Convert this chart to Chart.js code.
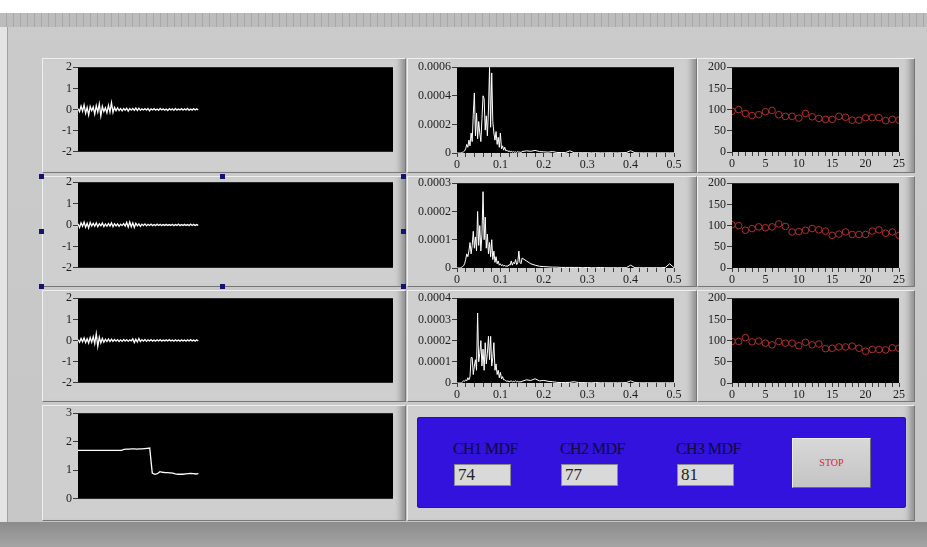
<!DOCTYPE html>
<html>
<head>
<meta charset="utf-8">
<script src="https://cdn.jsdelivr.net/npm/chart.js@4.4.1/dist/chart.umd.min.js"></script>
<style>
  body { margin: 0; width: 927px; height: 547px; overflow: hidden; position: relative;
         background: linear-gradient(#cbcbcb, #c6c6c6); font-family: "Liberation Serif", serif; }
  .abs { position: absolute; }
  #topWhite { left: 0; top: 0; width: 927px; height: 13px; background: #fff; }
  #ruler { left: 0; top: 13px; width: 927px; height: 14px;
           background: repeating-linear-gradient(90deg, #bcbcbc 0 6px, #a8a8a8 6px 7px); }
  #leftEdge { left: 0; top: 27px; width: 7px; height: 495px; background: #e4e4e4; border-right: 1px solid #a2a2a2; }
  #bottomBar { left: 0; top: 522px; width: 927px; height: 25px; background: linear-gradient(#8c8c8c, #a4a4a4); }
  .panel { position: absolute; box-sizing: border-box; background: #cfcfcf;
           border-top: 1px solid #efefef; border-left: 1px solid #efefef;
           border-right: 1px solid #777; border-bottom: 1px solid #777;
           box-shadow: inset -9px 0 6px -5px #8e8e8e; }
  #bluePanel { left: 417px; top: 417px; width: 489px; height: 91px; background: #3312de;
               border-radius: 3px; box-shadow: inset 0 0 0 1px #2a10b0; }
  .mdfLabel { position: absolute; font-size: 16px; letter-spacing: -0.6px; color: #0c0c3a; }
  .mdfBox { position: absolute; box-sizing: border-box; width: 57px; height: 22px; background: #d9d9d9;
            border: 1px solid #8a8a8a; font-size: 17px; color: #222; padding-left: 3px; line-height: 20px; }
  #stopBtn { left: 792px; top: 438px; width: 79px; height: 50px; box-sizing: border-box;
             background: linear-gradient(#d8d8d8, #c4c4c4); border: 1px solid #eee;
             border-right-color: #6c6c6c; border-bottom-color: #6c6c6c;
             color: #d42a2a; font-size: 10px; text-align: center; line-height: 48px; }
  .handle { position: absolute; width: 5px; height: 5px; background: #14146e; }
  canvas { position: absolute; }
</style>
</head>
<body>
<div id="topWhite" class="abs"></div>
<div id="ruler" class="abs"></div>
<div id="leftEdge" class="abs"></div>
<div id="bottomBar" class="abs"></div>

<div class="panel" style="left:42px;top:58px;width:364px;height:115px"></div>
<div class="panel" style="left:42px;top:176px;width:364px;height:111px"></div>
<div class="panel" style="left:42px;top:290px;width:364px;height:112px"></div>
<div class="panel" style="left:42px;top:405px;width:364px;height:116px"></div>
<div class="panel" style="left:407px;top:58px;width:290px;height:115px"></div>
<div class="panel" style="left:407px;top:176px;width:290px;height:111px"></div>
<div class="panel" style="left:407px;top:290px;width:290px;height:112px"></div>
<div class="panel" style="left:697px;top:58px;width:218px;height:115px"></div>
<div class="panel" style="left:697px;top:176px;width:218px;height:111px"></div>
<div class="panel" style="left:697px;top:290px;width:218px;height:112px"></div>
<div class="panel" style="left:407px;top:405px;width:508px;height:116px"></div>

<div id="bluePanel" class="abs"></div>
<div class="mdfLabel" style="left:453px;top:440px">CH1 MDF</div>
<div class="mdfLabel" style="left:560px;top:440px">CH2 MDF</div>
<div class="mdfLabel" style="left:676px;top:440px">CH3 MDF</div>
<div class="mdfBox" style="left:454px;top:464px">74</div>
<div class="mdfBox" style="left:561px;top:464px">77</div>
<div class="mdfBox" style="left:677px;top:464px">81</div>
<div id="stopBtn" class="abs">STOP</div>

<div class="handle" style="left:39px;top:174px"></div>
<div class="handle" style="left:220px;top:174px"></div>
<div class="handle" style="left:401px;top:174px"></div>
<div class="handle" style="left:39px;top:229px"></div>
<div class="handle" style="left:401px;top:229px"></div>
<div class="handle" style="left:39px;top:284px"></div>
<div class="handle" style="left:220px;top:284px"></div>
<div class="handle" style="left:401px;top:284px"></div>

<script>
// raw EMG, one value per sample
const emgCh1 = [
  0.04,-0.10,0.16,-0.08,0.22,-0.18,0.10,-0.26,0.14,-0.06,
  0.12,-0.22,0.18,-0.12,0.26,-0.30,0.15,-0.10,0.08,-0.16,
  0.20,-0.12,0.32,-0.14,0.10,-0.06,0.08,-0.05,0.04,-0.06,
  0.05,-0.03,0.06,-0.08,0.04,-0.03,0.05,-0.04,0.07,-0.05,
  0.06,-0.04,0.03,-0.02,0.04,-0.03,0.05,-0.06,0.03,-0.02,
  0.04,-0.03,0.02,-0.04,0.05,-0.02,0.03,-0.03,0.02,-0.05,
  0.04,-0.02,0.03,-0.04,0.05,-0.03,0.02,-0.02,0.04,-0.03,
  0.03,-0.02,0.05,-0.04,0.02,-0.03,0.04,-0.02,0.03,-0.02
];
const emgCh2 = [
  0.06,-0.12,0.10,-0.06,0.14,-0.10,0.08,-0.14,0.12,-0.05,
  0.08,-0.06,0.10,-0.08,0.06,-0.04,0.09,-0.07,0.05,-0.06,
  0.07,-0.05,0.10,-0.08,0.06,-0.04,0.05,-0.06,0.04,-0.03,
  0.06,-0.05,0.12,-0.10,0.14,-0.08,0.10,-0.12,0.08,-0.04,
  0.05,-0.06,0.04,-0.03,0.05,-0.04,0.03,-0.02,0.04,-0.03,
  0.02,-0.03,0.04,-0.02,0.03,-0.03,0.02,-0.02,0.03,-0.02,
  0.02,-0.02,0.03,-0.03,0.02,-0.02,0.04,-0.03,0.02,-0.02,
  0.03,-0.02,0.02,-0.03,0.04,-0.02,0.03,-0.02,0.02,-0.02
];
const emgCh3 = [
  0.05,-0.08,0.10,-0.06,0.12,-0.10,0.08,-0.12,0.14,-0.08,
  0.18,-0.15,0.32,-0.28,0.16,-0.12,0.10,-0.08,0.06,-0.05,
  0.07,-0.05,0.06,-0.04,0.05,-0.03,0.04,-0.05,0.03,-0.04,
  0.05,-0.03,0.04,-0.04,0.03,-0.02,0.08,-0.10,0.06,-0.07,
  0.09,-0.05,0.04,-0.03,0.05,-0.04,0.03,-0.02,0.04,-0.03,
  0.02,-0.03,0.03,-0.02,0.04,-0.03,0.02,-0.02,0.03,-0.02,
  0.04,-0.02,0.02,-0.03,0.03,-0.02,0.02,-0.03,0.03,-0.02,
  0.02,-0.03,0.03,-0.02,0.04,-0.02,0.02,-0.03,0.03,-0.02
];
const emgXMax = 207;

// bottom-left trace
const levelTrace = [
  1.70,1.70,1.70,1.70,1.70,1.70,1.70,1.70,1.70,1.70,
  1.70,1.70,1.70,1.70,1.70,1.70,1.70,1.70,
  1.73,1.74,1.74,1.75,1.75,1.74,1.75,1.75,1.76,1.77,
  1.78,0.90,
  0.86,0.88,0.95,0.93,0.92,0.92,0.91,0.90,0.87,0.86,
  0.86,0.86,0.87,0.88,0.89,0.88,0.87,0.88
];
const levelXMax = 123;

// spectra: frequency bins and amplitudes (x 1e-5)
const freqBins = [
  0,0.0025,0.005,0.0075,0.01,0.0125,0.015,0.0175,0.02,0.0225,
  0.025,0.0275,0.03,0.0325,0.035,0.0375,0.04,0.0425,0.045,0.0475,
  0.05,0.0525,0.055,0.0575,0.06,0.0625,0.065,0.0675,0.07,0.0725,
  0.075,0.0775,0.08,0.0825,0.085,0.0875,0.09,0.0925,0.095,0.0975,
  0.1,0.1025,0.105,0.1075,0.11,0.1125,0.115,0.1175,0.12,0.1225,
  0.125,0.1275,0.13,0.1325,0.135,0.1375,0.14,0.1425,0.145,0.1475,
  0.15,
  0.16,0.17,0.18,0.19,0.2,0.21,0.22,0.23,0.24,0.25,
  0.26,0.27,0.28,0.29,0.3,0.31,0.32,0.33,0.34,0.35,
  0.36,0.37,0.38,0.39,0.4,0.41,0.42,0.43,0.44,0.45,
  0.46,0.47,0.48,0.49,0.5
];
const specCh1 = [
  0,0,0,0,0.2,0.5,0.8,1.5,3,6,
  4,9,5,14,8,27,42,12,28,10,
  22,14,8,24,40,38,16,26,12,30,
  60,18,56,22,14,9,15,6,11,4,
  14,3,5,2,4,1.5,2,1,1.5,0.8,
  1.2,0.6,1,0.5,0.8,0.4,1,0.5,0.7,0.3,
  1,
  1.5,1.2,1.8,1.0,0.8,0.6,1.0,0.4,0.3,0.3,
  1.5,0.2,0.2,0.2,0.2,0.1,0.2,0.1,0.1,0.2,
  0.1,0.1,0.2,0.3,1.6,0.2,0.1,0.1,0.1,0.1,
  0.1,0.1,0.1,0.1,0.1
];
const specCh2 = [
  0,0,0,0,0.2,0.4,0.8,1.5,3,5,
  4,6,9,5,8,13,7,11,6,20,
  8,15,6,12,27,10,18,7,12,5,
  9,4,10,3,6,2,4,1.5,2.5,1,
  1.5,0.8,1.2,0.6,1,0.5,0.8,0.6,1.2,1,
  2.5,1,2,1.5,3,1.2,1.8,6,2,1.5,
  3.5,
  2.5,1.5,1.0,0.6,0.5,0.4,0.3,0.3,0.2,0.2,
  0.2,0.2,0.2,0.1,0.2,0.1,0.1,0.2,0.1,0.1,
  0.1,0.1,0.1,0.1,1.0,0.1,0.1,0.1,0.1,0.1,
  0.1,0.1,0.2,1.5,0.1
];
const specCh3 = [
  0,0,0,0,0,0.5,1,0.8,1.5,1,
  2.5,1.5,3,12,12,4,8,11,6,33,
  10,14,20,8,16,6,19,9,14,22,
  11,22,8,12,19,6,9,4,6,2.5,
  5,2,3,1.5,1.5,1,0.8,1,0.6,0.8,
  1,0.5,0.8,0.6,1,0.5,0.8,0.4,0.6,0.5,
  0.8,
  1.5,1.2,2.0,1.0,1.2,0.8,0.6,0.3,0.2,0.2,
  0.3,0.6,0.2,0.2,0.1,0.1,0.2,0.1,0.1,0.1,
  0.1,0.1,0.1,0.2,1.0,0.2,0.1,0.1,0.1,0.1,
  0.1,0.1,0.1,0.1,0.1
];

// median frequency per window
const mdfWindows = [0,1,2,3,4,5,6,7,8,9,10,11,12,13,14,15,16,17,18,19,20,21,22,23,24,25];
const mdfCh1 = [96,100,91,86,88,95,98,88,84,84,80,91,83,79,77,77,84,82,75,75,81,81,81,74,77,75];
const mdfCh2 = [102,100,89,93,97,95,97,104,98,85,86,89,93,90,87,77,80,85,79,79,79,87,90,82,85,77];
const mdfCh3 = [98,98,107,97,99,94,90,98,94,94,88,96,90,92,81,82,85,85,87,82,75,79,79,78,83,82];

const tickFont = { family: '"Liberation Serif", serif', size: 12 };
const tickColor = '#1c1c1c';
const tickMarkColor = '#3c3c3c';
const markerColor = '#b03030';

const plotBackground = {
  id: 'plotBackground',
  beforeDraw(chart) {
    const { ctx, chartArea: a } = chart;
    ctx.save();
    ctx.fillStyle = '#000';
    ctx.fillRect(a.left, a.top, a.width, a.height);
    ctx.restore();
  }
};

function addCanvas(left, top, w, h) {
  const c = document.createElement('canvas');
  c.width = w;
  c.height = h;
  c.style.left = left + 'px';
  c.style.top = top + 'px';
  c.style.width = w + 'px';
  c.style.height = h + 'px';
  document.body.appendChild(c);
  return c;
}

function yAxis(min, max, step, width, fmt) {
  return {
    min: min, max: max,
    ticks: { stepSize: step, color: tickColor, font: tickFont, padding: 1, callback: fmt },
    grid: { drawOnChartArea: false, tickLength: 5, color: tickMarkColor },
    border: { display: false },
    afterFit(s) { s.width = width; }
  };
}

function xAxis(max, step, isMajor, fmt) {
  return {
    type: 'linear', min: 0, max: max,
    ticks: {
      stepSize: step, autoSkip: false, maxRotation: 0, color: tickColor, font: tickFont, padding: 1,
      callback: (v) => isMajor(v) ? fmt(v) : ''
    },
    grid: { drawOnChartArea: false, tickLength: 4, color: tickMarkColor },
    border: { display: false },
    afterFit(s) { s.height = 20; }
  };
}

const baseOptions = {
  responsive: false,
  animation: false,
  devicePixelRatio: 1,
  events: [],
  plugins: { legend: { display: false }, tooltip: { enabled: false } }
};

// time-domain graphs (left column)
function createWave(plotTop, plotH, values, xMax, yMin, yMax) {
  const canvas = addCanvas(40, plotTop - 8, 360, plotH + 16);
  new Chart(canvas, {
    type: 'line',
    data: {
      datasets: [{
        data: values.map((v, i) => ({ x: i, y: v })),
        borderColor: '#fff', borderWidth: 1.3, pointRadius: 0, tension: 0
      }]
    },
    options: {
      ...baseOptions,
      layout: { padding: { top: 8, right: 7, bottom: 8, left: 0 } },
      scales: {
        x: { type: 'linear', min: 0, max: xMax, display: false },
        y: yAxis(yMin, yMax, 1, 38)
      }
    },
    plugins: [plotBackground]
  });
}

// spectra (middle column)
function createSpectrum(plotTop, plotH, amps, yMax) {
  const canvas = addCanvas(407, plotTop - 8, 277, plotH + 30);
  new Chart(canvas, {
    type: 'line',
    data: {
      datasets: [{
        data: amps.map((a, i) => ({ x: freqBins[i], y: a * 1e-5 })),
        borderColor: '#fff', borderWidth: 1, pointRadius: 0, tension: 0
      }]
    },
    options: {
      ...baseOptions,
      layout: { padding: { top: 8, right: 10, bottom: 2, left: 0 } },
      scales: {
        x: xAxis(0.5, 0.02,
          (v) => Math.abs(v * 10 - Math.round(v * 10)) < 1e-6,
          (v) => v === 0 ? '0' : (Math.round(v * 10) / 10).toFixed(1)),
        y: yAxis(0, yMax, 0.0001, 50, (v) => v === 0 ? '0' : v.toFixed(4))
      }
    },
    plugins: [plotBackground]
  });
}

// MDF trend (right column)
function createTrend(plotTop, plotH, values) {
  const canvas = addCanvas(700, plotTop - 8, 207, plotH + 30);
  new Chart(canvas, {
    type: 'scatter',
    data: {
      datasets: [{
        data: values.map((v, i) => ({ x: mdfWindows[i], y: v })),
        pointStyle: 'circle', pointRadius: 3.3, borderWidth: 1,
        borderColor: markerColor, backgroundColor: 'rgba(0,0,0,0)'
      }]
    },
    options: {
      ...baseOptions,
      layout: { padding: { top: 8, right: 8, bottom: 2, left: 0 } },
      scales: {
        x: xAxis(25, 1, (v) => v % 5 === 0, (v) => String(v)),
        y: yAxis(0, 200, 50, 32)
      }
    },
    plugins: [plotBackground]
  });
}

createWave(67, 85, emgCh1, emgXMax, -2, 2);
createWave(182, 86, emgCh2, emgXMax, -2, 2);
createWave(298, 85, emgCh3, emgXMax, -2, 2);
createWave(413, 86, levelTrace, levelXMax, 0, 3);

createSpectrum(67, 86, specCh1, 0.0006);
createSpectrum(183, 85, specCh2, 0.0003);
createSpectrum(298, 85, specCh3, 0.0004);

createTrend(67, 85, mdfCh1);
createTrend(183, 85, mdfCh2);
createTrend(298, 85, mdfCh3);
</script>
</body>
</html>
